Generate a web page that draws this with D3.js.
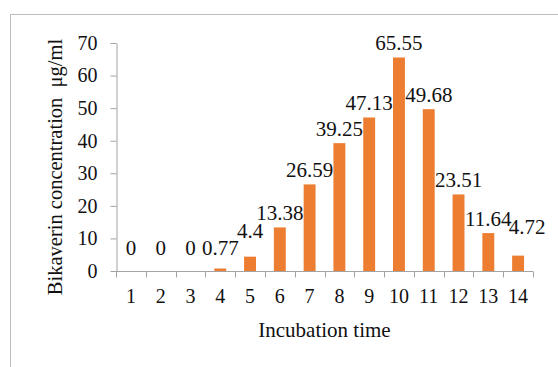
<!DOCTYPE html>
<html>
<head>
<meta charset="utf-8">
<script src="https://cdn.jsdelivr.net/npm/d3@7"></script>
<style>
  html, body { margin: 0; padding: 0; background: #fff; }
  svg { display: block; }
</style>
</head>
<body>
<svg id="chart" width="558" height="367"></svg>
<script>
// Bikaverin yield per incubation time
const incubationTimes = ["1","2","3","4","5","6","7","8","9","10","11","12","13","14"];
const bikaverin = [0, 0, 0, 0.77, 4.4, 13.38, 26.59, 39.25, 47.13, 65.55, 49.68, 23.51, 11.64, 4.72];
const yTicks = [0, 10, 20, 30, 40, 50, 60, 70];

const FONT = "'Liberation Serif', 'Times New Roman', serif";
const INK = "#111";

const svg = d3.select("#chart");
const W = 558, H = 367;
const margin = { left: 116, right: 25, top: 43, bottom: 96 };
const x0 = margin.left, x1 = W - margin.right;
const yBase = H - margin.bottom, yTop = margin.top;

// outer chart frame (extends past the window on the right and bottom)
svg.append("rect")
  .attr("x", 10.5).attr("y", 14.5)
  .attr("width", W + 20).attr("height", H + 20)
  .attr("fill", "none").attr("stroke", "#bdbdbd").attr("stroke-width", 1);

const x = d3.scaleBand()
  .domain(incubationTimes)
  .range([x0, x1])
  .paddingInner(0.6)
  .paddingOuter(0.3);

const y = d3.scaleLinear().domain([0, 70]).range([yBase, yTop]);

const axisColor = "#a3a3a3";

// bars
svg.append("g").selectAll("rect")
  .data(bikaverin)
  .join("rect")
  .attr("x", (d, i) => x(incubationTimes[i]))
  .attr("y", d => y(d))
  .attr("width", x.bandwidth())
  .attr("height", d => yBase - y(d))
  .attr("fill", "#ED7D31");

// y axis
const yAxis = svg.append("g")
  .attr("transform", `translate(${x0 + 0.5},0)`)
  .call(d3.axisLeft(y).tickValues(yTicks).tickSize(6).tickPadding(13).tickSizeOuter(0));
yAxis.attr("font-family", null).attr("font-size", null);
yAxis.select(".domain").attr("stroke", axisColor);
yAxis.selectAll(".tick line").attr("stroke", axisColor);
yAxis.selectAll(".tick text")
  .style("font-family", FONT)
  .style("font-size", "20px")
  .attr("fill", INK);

// x axis with ticks at category boundaries
const xAxisG = svg.append("g").attr("transform", `translate(0,${yBase + 0.5})`);
xAxisG.append("line")
  .attr("x1", x0).attr("x2", x1)
  .attr("stroke", axisColor);
const boundaries = d3.range(incubationTimes.length + 1).map(i => x0 + i * (x1 - x0) / incubationTimes.length);
xAxisG.selectAll("line.tk")
  .data(boundaries)
  .join("line")
  .attr("class", "tk")
  .attr("x1", d => Math.round(d) + 0.5).attr("x2", d => Math.round(d) + 0.5)
  .attr("y1", 0).attr("y2", 6)
  .attr("stroke", axisColor);
xAxisG.selectAll("text")
  .data(incubationTimes)
  .join("text")
  .attr("x", d => x(d) + x.bandwidth() / 2)
  .attr("y", 31.5)
  .attr("text-anchor", "middle")
  .style("font-family", FONT)
  .style("font-size", "20px")
  .attr("fill", INK)
  .text(d => d);

// value labels above bars; a couple are shifted clear of their neighbours
const labelNudge = { "5": [0, -12], "14": [9, -15] };
svg.append("g").selectAll("text")
  .data(bikaverin)
  .join("text")
  .attr("x", (d, i) => x(incubationTimes[i]) + x.bandwidth() / 2 + (labelNudge[incubationTimes[i]] || [0, 0])[0])
  .attr("y", (d, i) => Math.min(y(d) - 7, yBase - 16) + (labelNudge[incubationTimes[i]] || [0, 0])[1])
  .attr("text-anchor", "middle")
  .style("font-family", FONT)
  .style("font-size", "21px")
  .attr("fill", INK)
  .text(d => d);

// axis titles
svg.append("text")
  .attr("x", (x0 + x1) / 2)
  .attr("y", 337)
  .attr("text-anchor", "middle")
  .style("font-family", FONT)
  .style("font-size", "21px")
  .attr("fill", INK)
  .text("Incubation time");

svg.append("text")
  .attr("transform", `translate(62,${(yTop + yBase) / 2 + 10}) rotate(-90)`)
  .attr("text-anchor", "middle")
  .style("font-family", FONT)
  .style("font-size", "20.5px")
  .style("white-space", "pre")
  .attr("fill", INK)
  .text("Bikaverin concentration  μg/ml");
</script>
</body>
</html>
